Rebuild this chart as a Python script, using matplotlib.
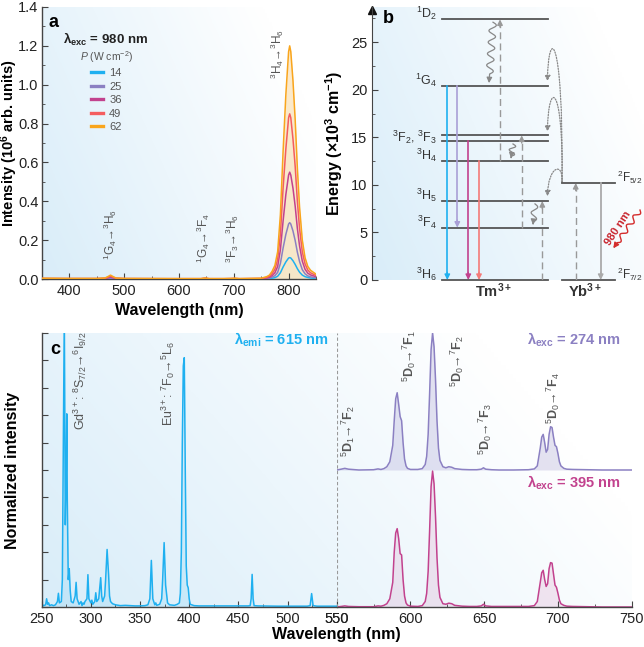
import numpy as np
import matplotlib
matplotlib.use('Agg')
import matplotlib.pyplot as plt
from matplotlib.path import Path
from matplotlib.patches import FancyArrowPatch
from matplotlib.colors import LinearSegmentedColormap
from matplotlib.ticker import MultipleLocator, NullFormatter

plt.rcParams['font.family'] = ['Liberation Sans', 'DejaVu Sans']
plt.rcParams['mathtext.fontset'] = 'custom'
plt.rcParams['mathtext.rm'] = 'Liberation Sans'
plt.rcParams['mathtext.it'] = 'Liberation Sans:italic'
plt.rcParams['mathtext.bf'] = 'Liberation Sans:bold'

# ---------------- Panel a data ----------------
wl_a = [350, 400, 450, 465, 470, 475, 480, 485, 500, 600, 640, 648, 655, 680, 695, 702, 710,
        750, 760, 765, 770, 775, 780, 785, 790, 795, 800, 802, 804, 808, 812, 816, 820, 825,
        830, 835, 840, 850]
power_labels = ['14', '25', '36', '49', '62']
int_14 = [0.001, 0.001, 0.001, 0.001, 0.001, 0.002, 0.001, 0.001, 0.001, 0.001, 0.001, 0.001, 0.001,
          0.001, 0.001, 0.001, 0.001, 0.001, 0.001, 0.002, 0.004, 0.007, 0.014, 0.032, 0.062, 0.088,
          0.108, 0.11, 0.108, 0.094, 0.075, 0.053, 0.035, 0.02, 0.012, 0.008, 0.005, 0.003]
int_25 = [0.001, 0.001, 0.001, 0.002, 0.003, 0.005, 0.003, 0.002, 0.001, 0.001, 0.001, 0.002, 0.001,
          0.001, 0.001, 0.001, 0.001, 0.001, 0.003, 0.005, 0.01, 0.017, 0.034, 0.08, 0.16, 0.23,
          0.283, 0.29, 0.283, 0.247, 0.198, 0.138, 0.09, 0.048, 0.027, 0.016, 0.011, 0.006]
int_36 = [0.002, 0.002, 0.002, 0.003, 0.006, 0.01, 0.006, 0.003, 0.002, 0.001, 0.001, 0.003, 0.001,
          0.001, 0.002, 0.002, 0.001, 0.002, 0.005, 0.009, 0.018, 0.032, 0.064, 0.15, 0.3, 0.435,
          0.535, 0.55, 0.535, 0.467, 0.375, 0.26, 0.17, 0.092, 0.05, 0.03, 0.021, 0.012]
int_49 = [0.003, 0.002, 0.002, 0.004, 0.009, 0.015, 0.009, 0.004, 0.002, 0.002, 0.002, 0.004, 0.002,
          0.002, 0.002, 0.003, 0.002, 0.003, 0.008, 0.014, 0.028, 0.05, 0.1, 0.23, 0.47, 0.67,
          0.83, 0.85, 0.83, 0.72, 0.58, 0.4, 0.26, 0.14, 0.078, 0.046, 0.032, 0.018]
int_62 = [0.004, 0.003, 0.003, 0.005, 0.012, 0.02, 0.012, 0.005, 0.003, 0.002, 0.002, 0.005, 0.002,
          0.002, 0.003, 0.004, 0.002, 0.004, 0.012, 0.02, 0.04, 0.07, 0.14, 0.33, 0.66, 0.95,
          1.17, 1.2, 1.17, 1.02, 0.82, 0.57, 0.37, 0.2, 0.11, 0.065, 0.045, 0.025]
power_colors = ['#1fb0f0', '#8b80c2', '#c2428e', '#f45d5f', '#f9a51c']

# ---------------- Panel b data ----------------
tm_levels = [0, 5.5, 8.3, 12.5, 14.6, 15.2, 20.4, 27.4]
tm_labels = ['$^3$H$_6$', '$^3$F$_4$', '$^3$H$_5$', '$^3$H$_4$', '', '$^3$F$_2$, $^3$F$_3$',
             '$^1$G$_4$', '$^1$D$_2$']
yb_levels = [0, 10.2]
yb_labels = ['$^2$F$_{7/2}$', '$^2$F$_{5/2}$']

# ---------------- Panel c data ----------------
exc_wl = [250, 252, 254, 255, 256, 257, 258, 260, 262, 264, 266, 267, 268, 270, 271, 272, 273, 274,
          275, 275.5, 276, 277, 278, 279, 280, 282, 284, 285, 286, 288, 290, 291, 292, 293, 294, 296,
          297, 298, 300, 301, 302, 304, 305, 306, 308, 310, 311, 312, 314, 315, 316.5, 318, 319, 320,
          322, 325, 330, 335, 340, 345, 350, 355, 358, 360, 361.5, 363, 365, 366, 367, 370, 372, 373,
          374.5, 376, 378, 380, 385, 388, 390, 391, 392, 393, 394, 395, 396, 397, 398, 399, 400, 401,
          405, 410, 420, 440, 460, 462, 463, 464, 465, 466, 470, 490, 510, 520, 523, 524.5, 526, 530,
          545, 550]
exc_int = [0.1, 0.05, 0.08, 0.3, 0.1, 0.15, 0.05, 0.08, 0.05, 0.08, 0.2, 0.5, 0.15, 0.2, 1.0, 6.0,
           10.8, 3.0, 5.0, 7.05, 4.0, 1.0, 1.4, 0.6, 0.2, 0.15, 0.4, 0.9, 0.3, 0.1, 0.2, 0.05, 0.15,
           0.1, 0.2, 0.3, 1.18, 0.3, 0.15, 0.25, 0.1, 0.2, 0.52, 0.2, 0.3, 1.07, 0.4, 0.2, 0.4, 1.0,
           2.1, 1.2, 0.4, 0.2, 0.12, 0.08, 0.05, 0.06, 0.05, 0.04, 0.04, 0.05, 0.08, 0.3, 1.7, 0.3,
           0.08, 0.15, 0.06, 0.1, 0.3, 1.0, 2.35, 0.8, 0.15, 0.08, 0.06, 0.1, 0.15, 0.5, 2.0, 6.0,
           8.8, 9.1, 5.0, 1.5, 0.8, 0.7, 0.3, 0.1, 0.05, 0.04, 0.04, 0.04, 0.04, 0.05, 0.3, 1.19,
           0.3, 0.05, 0.04, 0.03, 0.03, 0.03, 0.05, 0.49, 0.05, 0.03, 0.03, 0.03]

em_wl = [550, 553, 555.5, 558, 565, 575, 578, 580, 582, 584, 586, 588, 589, 590, 591, 592, 593, 594,
         595, 596, 597, 598, 600, 605, 608, 610, 611, 612, 613, 614, 615, 616, 617, 618, 619, 620,
         622, 624, 626, 628, 630, 635, 640, 645, 648, 649.5, 651, 655, 660, 670, 680, 684, 686, 688,
         689, 690, 691, 692, 693, 694, 695, 696, 697, 698, 699, 700, 701, 702, 704, 706, 710, 720,
         730, 740, 750]
em_274 = [5.0, 5.03, 5.06, 5.03, 5.0, 5.01, 5.04, 5.02, 5.05, 5.12, 5.3, 5.9, 6.8, 7.6, 7.82, 7.4,
          6.95, 6.8, 6.0, 5.4, 5.15, 5.06, 5.02, 5.02, 5.05, 5.2, 5.5, 6.3, 7.8, 9.4, 10.0, 9.5, 8.3,
          6.8, 5.8, 5.35, 5.12, 5.08, 5.12, 5.1, 5.05, 5.02, 5.01, 5.01, 5.03, 5.08, 5.03, 5.01, 5.0,
          5.0, 5.01, 5.04, 5.15, 5.8, 6.2, 6.3, 6.0, 5.65, 5.75, 6.3, 6.58, 6.55, 6.2, 5.9, 5.85,
          5.6, 5.3, 5.15, 5.06, 5.03, 5.02, 5.01, 5.0, 5.0, 5.0]
em_395 = [0.0, 0.02, 0.04, 0.02, 0.01, 0.01, 0.04, 0.03, 0.06, 0.12, 0.3, 0.9, 2.0, 2.7, 2.86, 2.5,
          1.95, 1.9, 1.0, 0.4, 0.15, 0.07, 0.03, 0.02, 0.05, 0.2, 0.5, 1.3, 2.8, 4.4, 4.96, 4.5, 3.3,
          1.8, 0.8, 0.35, 0.12, 0.1, 0.14, 0.12, 0.06, 0.03, 0.02, 0.02, 0.04, 0.1, 0.04, 0.02, 0.02,
          0.02, 0.02, 0.05, 0.2, 0.9, 1.25, 1.34, 1.0, 0.75, 0.85, 1.4, 1.62, 1.6, 1.2, 0.8, 0.72,
          0.5, 0.25, 0.12, 0.06, 0.03, 0.02, 0.01, 0.0, 0.0, 0.0]
em_offset = 5.0

C_EXC = '#1fb0f0'
C_274 = '#8b80c2'
C_395 = '#c2428e'
GRAY_TXT = '#555555'
ARR = '→'

W, H = 644, 647
fig = plt.figure(figsize=(W / 100, H / 100), dpi=100)


def fax(x0, y0, x1, y1):
    return fig.add_axes([x0 / W, 1 - y1 / H, (x1 - x0) / W, (y1 - y0) / H])


def add_grad(ax, g0=0.0, g1=1.0, c0='#d9edf9', c1='#ffffff'):
    gx = np.linspace(g0, g1, 256).reshape(1, -1)
    gy = np.linspace(0, 1, 64).reshape(-1, 1)
    g = np.clip(gx * 0.8 + gy * 0.35, 0, 1)
    cmap = LinearSegmentedColormap.from_list('bg', [c0, c1])
    ax.imshow(g, cmap=cmap, vmin=0, vmax=1, extent=[0, 1, 0, 1], transform=ax.transAxes,
              aspect='auto', zorder=-10, origin='lower', interpolation='bilinear')


def style_axes(ax):
    for s in ['top', 'right']:
        ax.spines[s].set_visible(False)
    for s in ['left', 'bottom']:
        ax.spines[s].set_color('#444444')
        ax.spines[s].set_linewidth(1.0)
    ax.tick_params(which='both', direction='in', color='#444444', labelcolor='#222222')
    ax.tick_params(which='major', length=4)
    ax.tick_params(which='minor', length=2.5)


# ================= Panel a =================
axa = fax(42, 7, 316, 279)
add_grad(axa)
style_axes(axa)
series = [int_14, int_25, int_36, int_49, int_62]
axa.fill_between(wl_a, int_62, 0, color='#f9c46a', alpha=0.35, lw=0, zorder=1)
for vals, col, lab in zip(series, power_colors, power_labels):
    axa.plot(wl_a, vals, color=col, lw=1.1, label=lab, zorder=3)
axa.set_xlim(350, 850)
axa.set_ylim(0, 1.4)
axa.xaxis.set_major_locator(MultipleLocator(100))
axa.xaxis.set_minor_locator(MultipleLocator(50))
axa.yaxis.set_major_locator(MultipleLocator(0.2))
axa.yaxis.set_minor_locator(MultipleLocator(0.1))
axa.yaxis.set_major_formatter(matplotlib.ticker.FormatStrFormatter('%.1f'))
axa.tick_params(labelsize=10.5)
axa.tick_params(axis='y', pad=2.5)
axa.set_xlabel('Wavelength (nm)', fontsize=11.5, fontweight='bold', labelpad=4)
axa.set_ylabel('Intensity (10$^{\\mathbf{6}}$ arb. units)', fontsize=10.5, fontweight='bold')
axa.yaxis.set_label_coords(-0.08, 0.5)
axa.text(0.025, 0.975, 'a', transform=axa.transAxes, fontsize=13, fontweight='bold', va='top')
axa.text(0.075, 0.882, 'λ$_{\\mathbf{exc}}$ = 980 nm', transform=axa.transAxes, fontsize=9.5,
         fontweight='bold', va='center', color='#222222')
leg = axa.legend(loc='upper left', bbox_to_anchor=(0.11, 0.875), frameon=False, fontsize=8,
                 title='$\\it{P}$ (W cm$^{-2}$)', title_fontsize=7.5, handlelength=1.0,
                 handletextpad=0.6, labelspacing=0.32, borderpad=0.2)
for t in leg.get_texts():
    t.set_color(GRAY_TXT)
leg.get_title().set_color(GRAY_TXT)
for h in leg.legend_handles:
    h.set_linewidth(2.4)
lab_kw = dict(rotation=90, ha='center', va='bottom', fontsize=8.5, color=GRAY_TXT)
axa.text(475, 0.1, '$^1$G$_4$' + ARR + '$^3$H$_6$', **lab_kw)
axa.text(645, 0.08, '$^1$G$_4$' + ARR + '$^3$F$_4$', **lab_kw)
axa.text(697, 0.08, '$^3$F$_3$' + ARR + '$^3$H$_6$', **lab_kw)
axa.text(780, 1.03, '$^3$H$_4$' + ARR + '$^3$H$_6$', **lab_kw)

# ================= Panel b =================
SY = 9.52  # px per energy unit
axb = fax(372, 7, 644, 280)
add_grad(axb)
axb.set_xlim(0, 272)
axb.set_ylim(0, 28.7)
for s in ['top', 'right', 'bottom']:
    axb.spines[s].set_visible(False)
axb.spines['left'].set_color('#444444')
axb.tick_params(which='both', direction='in', color='#444444', labelcolor='#222222', labelsize=10.5)
axb.tick_params(which='major', length=4)
axb.tick_params(which='minor', length=2.5)
axb.set_xticks([])
axb.yaxis.set_major_locator(MultipleLocator(5))
axb.yaxis.set_minor_locator(MultipleLocator(2.5))
axb.plot(0, 0.99, marker='^', color='#111111', markersize=6, transform=axb.transAxes, clip_on=False)
axb.set_ylabel('Energy (×10$^{\\mathbf{3}}$ cm$^{\\mathbf{-1}}$)', fontsize=11.5, fontweight='bold')
axb.yaxis.set_label_coords(-0.1, 0.5)
axb.text(11, 27.5, 'b', fontsize=13, fontweight='bold', va='center')

LVL = '#555555'
tm_x0, tm_x1 = 69.7, 176.3
yb_x0, yb_x1 = 189.7, 243
for e, lab in zip(tm_levels, tm_labels):
    axb.plot([tm_x0, tm_x1], [e, e], color=LVL, lw=1.3, clip_on=False)
    if lab:
        ye = 15.0 if ',' in lab else e + 0.6
        axb.text(65, ye, lab, ha='right', va='center', fontsize=9, color='#333333')
for e, lab in zip(yb_levels, yb_labels):
    axb.plot([yb_x0, yb_x1], [e, e], color=LVL, lw=1.3, clip_on=False)
    axb.text(245, e + 0.6, lab, ha='left', va='center', fontsize=8.5, color='#333333')
axb.text(121, -1.1, 'Tm$^{\\mathbf{3+}}$', ha='center', va='center', fontsize=10.5, fontweight='bold',
         color='#333333')
axb.text(213, -1.1, 'Yb$^{\\mathbf{3+}}$', ha='center', va='center', fontsize=10.5, fontweight='bold',
         color='#333333')

# emission arrows (down)
for x, y0, y1, c in [(75.3, 20.4, 0, '#1fb0f0'), (85.3, 20.4, 5.5, '#a99fd6'),
                     (96.3, 14.6, 0, '#c2428e'), (107, 12.5, 0, '#f47a78')]:
    axb.plot([x, x], [y0, y1 + 0.6], color=c, lw=1.2)
    axb.annotate('', xy=(x, y1), xytext=(x, y1 + 0.8),
                 arrowprops=dict(arrowstyle='-|>', color=c, lw=1.0, mutation_scale=8,
                                 shrinkA=0, shrinkB=0))
# dashed excitation arrows (up)
DG = '#999999'
for x, y0, y1 in [(128, 12.5, 27.4), (149.7, 5.5, 15.2), (170.3, 0, 8.3), (203.7, 0, 10.2)]:
    axb.plot([x, x], [y0, y1 - 0.6], color=DG, lw=1.0, dashes=(5, 3))
    axb.annotate('', xy=(x, y1), xytext=(x, y1 - 0.8),
                 arrowprops=dict(arrowstyle='-|>', color=DG, lw=1.0, mutation_scale=8,
                                 shrinkA=0, shrinkB=0))
# Yb down arrow
axb.plot([228.7, 228.7], [10.2, 0.6], color='#aaaaaa', lw=1.3)
axb.annotate('', xy=(228.7, 0), xytext=(228.7, 0.8),
             arrowprops=dict(arrowstyle='-|>', color='#aaaaaa', lw=1.0, mutation_scale=8,
                             shrinkA=0, shrinkB=0))


# wavy arrows (decorative), built in pixel space then mapped back
def wavy(ax, x0, y0, x1, y1, color, amp=3.0, nwave=3.0, lw=0.9, head=8):
    p0 = np.array([x0, y0 * SY])
    p1 = np.array([x1, y1 * SY])
    d = p1 - p0
    L = np.hypot(*d)
    u = d / L
    n = np.array([-u[1], u[0]])
    t = np.linspace(0, 1, 300)
    tc = 0.85
    off = np.where(t < tc, amp * np.sin(2 * np.pi * nwave * t / tc), 0.0)
    pts = p0[None, :] + t[:, None] * d[None, :] + off[:, None] * n[None, :]
    xs, ys = pts[:, 0], pts[:, 1] / SY
    ax.plot(xs[:-15], ys[:-15], color=color, lw=lw, clip_on=False)
    ax.annotate('', xy=(xs[-1], ys[-1]), xytext=(xs[-25], ys[-25]),
                arrowprops=dict(arrowstyle='-|>', color=color, lw=lw, mutation_scale=head,
                                shrinkA=0, shrinkB=0), annotation_clip=False)


wavy(axb, 121, 27.1, 117, 20.7, '#888888', amp=3.5, nwave=4.5)
wavy(axb, 141, 14.3, 139, 12.8, '#888888', amp=3.0, nwave=1.5)
wavy(axb, 163, 8.0, 161, 5.8, '#888888', amp=3.0, nwave=1.5)
wavy(axb, 268, 7.35, 241.3, 3.33, '#d42d2d', amp=2.5, nwave=3.5, lw=1.0)
axb.text(246, 5.5, '980 nm', rotation=57, ha='center', va='center', fontsize=8,
         fontweight='bold', color='#c8232c')

# dotted energy-transfer loops
for (ya, yb, ye) in [(12.5, 12.0, 8.8), (21.0, 21.0, 15.6), (26.5, 26.5, 20.9)]:
    p = Path([(190, 10.3), (191.5, ya), (176, yb), (175.5, ye)],
             [Path.MOVETO, Path.CURVE4, Path.CURVE4, Path.CURVE4])
    arr = FancyArrowPatch(path=p, arrowstyle='-|>', mutation_scale=8, color='#888888',
                          lw=0.9, linestyle=(0, (1, 1.2)), shrinkA=0, shrinkB=0)
    axb.add_patch(arr)

# ================= Panel c =================
axc1 = fax(41.7, 333, 336.7, 607)
axc2 = fax(336.7, 333, 631.7, 607)
add_grad(axc1, 0.0, 0.55)
add_grad(axc2, 0.55, 1.1)
style_axes(axc1)
style_axes(axc2)
axc2.spines['left'].set_visible(False)
axc1.fill_between(exc_wl, exc_int, 0, color=C_EXC, alpha=0.12, lw=0)
axc1.plot(exc_wl, exc_int, color=C_EXC, lw=1.1)
axc2.fill_between(em_wl, em_274, em_offset, color=C_274, alpha=0.22, lw=0)
axc2.plot(em_wl, em_274, color=C_274, lw=1.1)
axc2.fill_between(em_wl, em_395, 0, color=C_395, alpha=0.12, lw=0)
axc2.plot(em_wl, em_395, color=C_395, lw=1.1)
axc2.axvline(550, color='#999999', lw=0.8, dashes=(3, 2))
axc1.set_xlim(250, 550)
axc2.set_xlim(550, 750)
for ax in (axc1, axc2):
    ax.set_ylim(0, 10)
    ax.xaxis.set_major_locator(MultipleLocator(50))
    ax.xaxis.set_minor_locator(MultipleLocator(25))
    ax.tick_params(labelsize=10.5)
axc1.yaxis.set_major_locator(MultipleLocator(1))
axc1.yaxis.set_major_formatter(NullFormatter())
axc2.set_yticks([])
axc1.set_ylabel('Normalized intensity', fontsize=11.5, fontweight='bold')
axc1.yaxis.set_label_coords(-0.074, 0.5)
fig.text((41.7 + 631.7) / 2 / W, 1 - 634 / H, 'Wavelength (nm)', ha='center', va='center',
         fontsize=11.5, fontweight='bold')
axc1.text(0.03, 0.97, 'c', transform=axc1.transAxes, fontsize=13, fontweight='bold', va='top')

c_kw = dict(rotation=90, ha='center', va='bottom', fontsize=9, color=GRAY_TXT)
axc1.text(289, 6.45, 'Gd$^{3+}$: $^8$S$_{7/2}$' + ARR + '$^6$I$_{9/2}$', **c_kw)
axc1.text(379, 6.6, 'Eu$^{3+}$: $^7$F$_0$' + ARR + '$^5$L$_6$', **c_kw)
axc1.text(541.5, 9.75, 'λ$_{\\mathbf{emi}}$ = 615 nm', ha='right', va='center', fontsize=10.5,
          fontweight='bold', color=C_EXC)
axc2.text(743, 9.75, 'λ$_{\\mathbf{exc}}$ = 274 nm', ha='right', va='center', fontsize=10.5,
          fontweight='bold', color=C_274)
axc2.text(743, 4.53, 'λ$_{\\mathbf{exc}}$ = 395 nm', ha='right', va='center', fontsize=10.5,
          fontweight='bold', color=C_395)
e_kw = dict(rotation=90, ha='center', va='bottom', fontsize=9, color=GRAY_TXT, fontweight='bold')
axc2.text(558, 5.47, '$^5$D$_1$' + ARR + '$^7$F$_2$', **e_kw)
axc2.text(599.5, 8.2, '$^5$D$_0$' + ARR + '$^7$F$_1$', **e_kw)
axc2.text(632, 8.03, '$^5$D$_0$' + ARR + '$^7$F$_2$', **e_kw)
axc2.text(651, 5.54, '$^5$D$_0$' + ARR + '$^7$F$_3$', **e_kw)
axc2.text(697, 6.69, '$^5$D$_0$' + ARR + '$^7$F$_4$', **e_kw)

fig.savefig('out.png', dpi=100)
